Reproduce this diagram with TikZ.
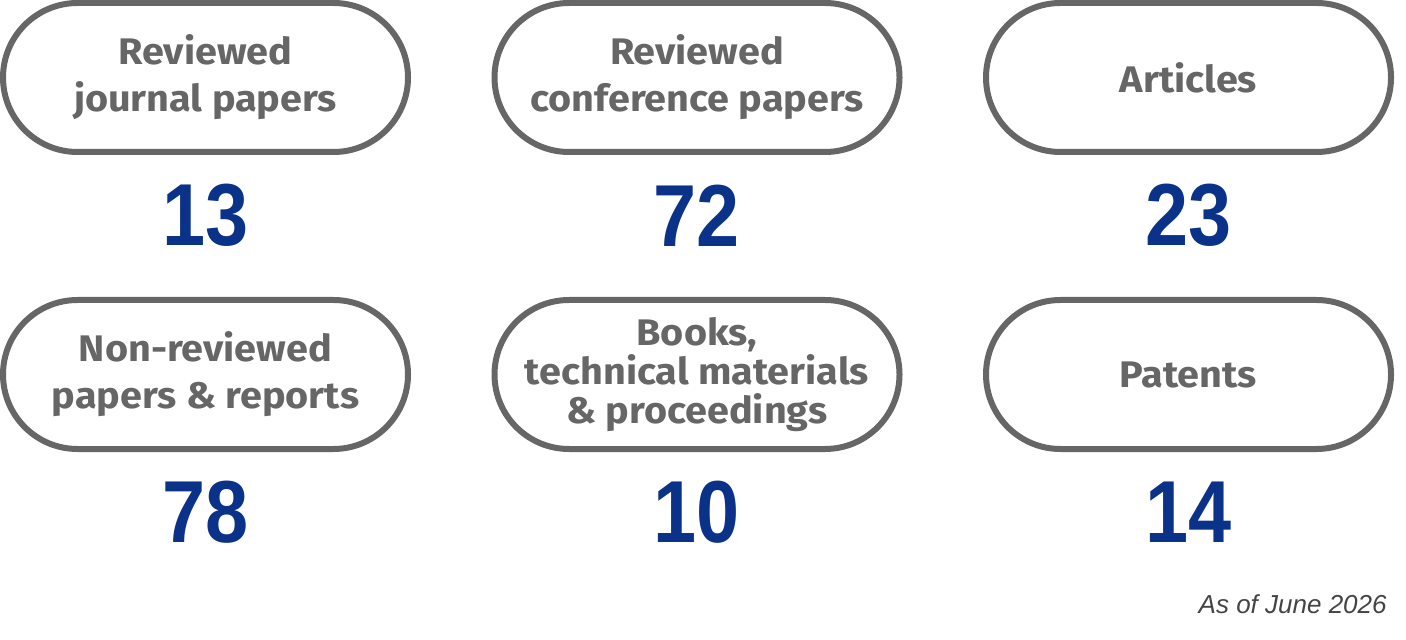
\documentclass[tikz,border=0pt]{standalone}
\usepackage{fontspec}
\setmainfont{Fira Sans}[FakeStretch=1.07]
\newfontfamily\numfont[FakeStretch=0.88]{Liberation Sans}
\newfontfamily\notefont{Liberation Sans}
\usepackage{tikz}
\usetikzlibrary{shapes}
\usetikzlibrary{positioning}
\definecolor{pillgray}{HTML}{666666}
\definecolor{countblue}{HTML}{0A3288}
\definecolor{notegray}{HTML}{444444}
\tikzstyle{pill} = [rounded rectangle, draw=pillgray, line width=3pt,
    minimum width=202.5pt, minimum height=74.5pt, inner sep=0pt,
    text=pillgray, align=center, font=\fontsize{18.5}{23.5}\selectfont\bfseries]
\tikzstyle{count} = [text=countblue, inner sep=0pt,
    font=\numfont\fontsize{44}{44}\selectfont\bfseries]

\begin{document}
\begin{tikzpicture}[x=1pt,y=1pt,node distance=245.75pt]
\useasboundingbox (0,0) rectangle (703,-320);

% Define pill boxes
\node [pill] at (102.75,-38.75) (journal) {Reviewed\\journal papers};
\node [pill,right of=journal] (conference) {Reviewed\\conference papers};
\node [pill,right of=conference] (articles) {Articles};

\node [pill,below of=journal,node distance=148.5pt] (nonrev) {Non-reviewed\\papers \& reports};
\node [pill,right of=nonrev,font=\fontsize{18.5}{19.5}\selectfont\bfseries] (books) {Books,\\technical materials\\\& proceedings};
\node [pill,right of=books] (patents) {Patents};

% counts
\node [count,below of=journal,node distance=69pt] (njournal) {13};
\node [count,below of=conference,node distance=69pt] (nconference) {72};
\node [count,below of=articles,node distance=69pt] (narticles) {23};
\node [count,below of=nonrev,node distance=69pt] (nnonrev) {78};
\node [count,below of=books,node distance=69pt] (nbooks) {10};
\node [count,below of=patents,node distance=69pt] (npatents) {14};

\node [anchor=base east,inner sep=0pt,text=notegray,font=\notefont\itshape\fontsize{13}{13}\selectfont] at (693.5,-306.5) (asof) {As of June 2026};

\end{tikzpicture}
\end{document}
